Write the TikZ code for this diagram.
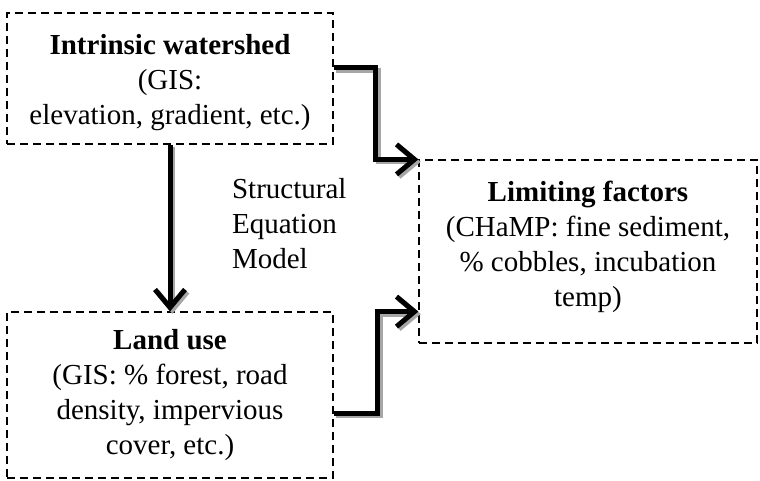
\documentclass[tikz,border=0pt]{standalone}
\usepackage{fontspec}
\setmainfont{Liberation Serif}
\usetikzlibrary{arrows.meta}
\tikzset{
	factorbox/.style={draw, dash pattern=on 4pt off 2.5pt, line width=0.6pt, align=center, inner sep=0pt, font=\fontsize{14.5}{17.5}\selectfont},
	flow/.style={-{Straight Barb[length=9pt, width=15pt]}, line width=2.5pt,
		preaction={draw, gray!70, line width=2.5pt, transform canvas={shift={(1.2pt,-1.2pt)}}}},
}
\begin{document}
\begin{tikzpicture}[x=0.5pt, y=-0.5pt]
		\useasboundingbox (0,0) rectangle (760,481);
		
		% Boxes
		\node[factorbox, minimum width=163pt, minimum height=65.5pt] (watershed) at (170,78.5) {\rule{0pt}{14pt}\textbf{Intrinsic watershed}\\(GIS:\\elevation, gradient, etc.)};
		\node[factorbox, minimum width=163pt, minimum height=83pt] (landuse) at (170,395) {\textbf{Land use}\\(GIS: \% forest, road\\density, impervious\\cover, etc.)};
		\node[factorbox, minimum width=169pt, minimum height=91.5pt] (limits) at (588,251.5) {\textbf{Limiting factors}\\(CHaMP: fine sediment,\\\% cobbles, incubation\\temp)\rule[-8pt]{0pt}{0pt}};
		
		% Model label
		\node[anchor=west, align=left, font=\fontsize{14.5}{17.5}\selectfont] (sem) at (225,224) {Structural\\Equation\\Model};
		
		% Arrows
		\draw[flow] (watershed.south) -- (landuse.north);
		\draw[flow] ([yshift=5.25pt]watershed.east) -- ++(42,0) |- (limits.north west);
		\draw[flow] ([yshift=-9pt]landuse.east) -- ++(44,0) |- ([yshift=16pt]limits.south west);
	\end{tikzpicture}
\end{document}
